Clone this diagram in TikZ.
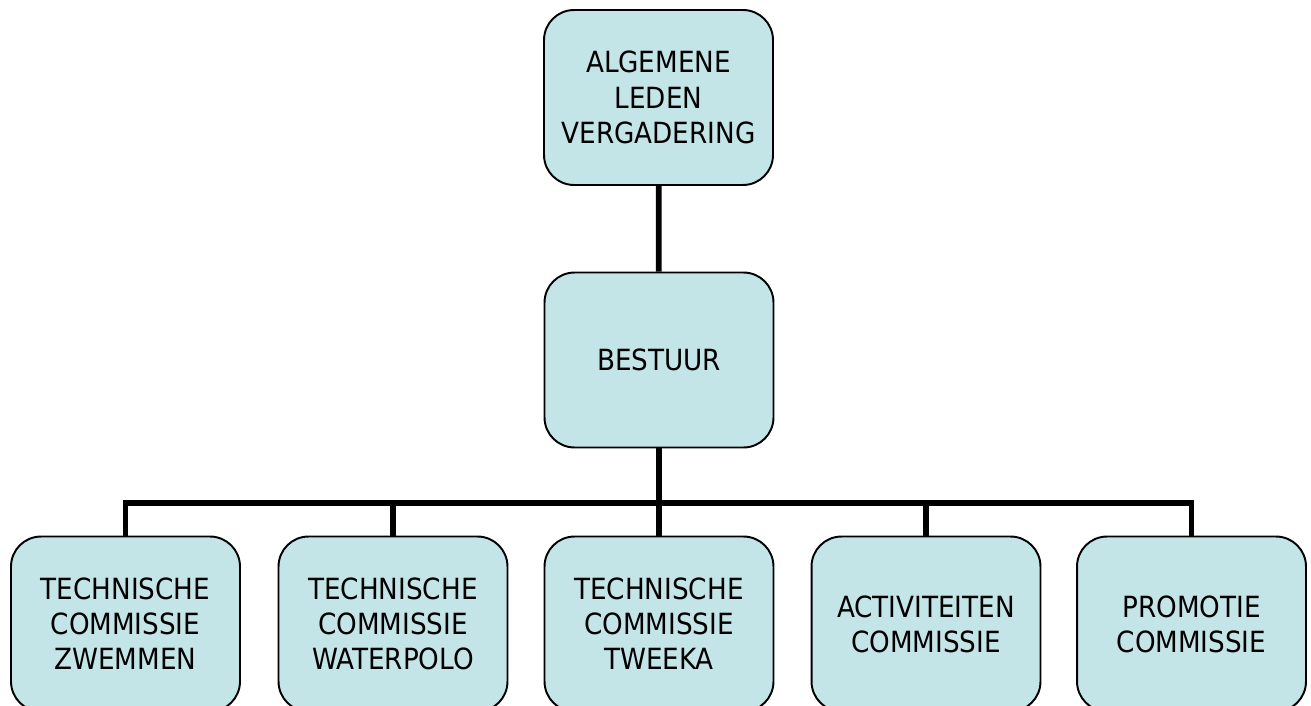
\documentclass[tikz,border=0pt]{standalone}
\usepackage{fontspec}
\setmainfont{DejaVu Sans Condensed}
\definecolor{boxfill}{RGB}{196,229,232}
\begin{document}
\begin{tikzpicture}[
        x=0.02cm, y=-0.02cm,
        unit/.style={rectangle, draw, line width=1.1pt, fill=boxfill, rounded corners=0.6cm, minimum width=4.58cm, minimum height=3.5cm, text width=4cm, align=center, font=\fontsize{16.6}{20}\selectfont},
        link/.style={line width=3.3pt}
    ]
        \useasboundingbox (0,0) rectangle (1311,706);

        % Top: members meeting and board
        \node[unit] (alv) at (658.5,97.5) {ALGEMENE\\LEDEN\\VERGADERING};
        \node[unit] (bestuur) at (659,360) {BESTUUR};
        \draw[link] (alv) -- (bestuur);

        % Commissions
        \node[unit] (tc_zwem) at (125.5,624) {TECHNISCHE\\COMMISSIE\\ZWEMMEN};
        \node[unit] (tc_polo) at (393,624) {TECHNISCHE\\COMMISSIE\\WATERPOLO};
        \node[unit] (tc_tweeka) at (659,624) {TECHNISCHE\\COMMISSIE\\TWEEKA};
        \node[unit] (act) at (926,624) {ACTIVITEITEN\\COMMISSIE};
        \node[unit] (promo) at (1191.5,624) {PROMOTIE\\COMMISSIE};

        \coordinate (bar) at (659,503);
        \draw[link] (bestuur) -- (bar);
        \foreach \c in {tc_zwem, tc_polo, tc_tweeka, act, promo}
            \draw[link] (bar) -| (\c);

\end{tikzpicture}
\end{document}
